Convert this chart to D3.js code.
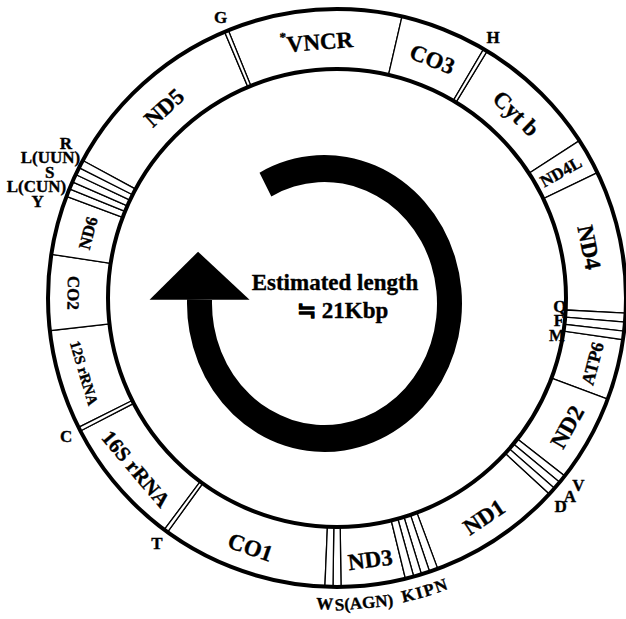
<!DOCTYPE html>
<html>
<head>
<meta charset="utf-8">
<script src="https://cdn.jsdelivr.net/npm/d3@7"></script>
<style>
	body { margin: 0; background: #fff; }
	svg { display: block; }
	text { font-family: "Liberation Serif", "Times New Roman", serif; font-weight: bold; fill: #000; stroke: #000; stroke-width: 0.35px; }
</style>
<title>Mitochondrial gene map</title>
</head>
<body>
<svg id="map" width="626" height="619"></svg>
<script>
// positions are in degrees, clockwise from the top of the circle
var geneNames = ["VNCR", "CO3", "Cyt b", "ND4L", "ND4", "ATP6", "ND2", "ND1", "ND3", "CO1", "16S rRNA", "12S rRNA", "CO2", "ND6", "ND5"];
var geneStart = [-22.1, 13.0, 31.3, 57.0, 64.3, 98.3, 110.5, 132.7, 166.3, 182.4, 216.7, 243.4, 263.5, 278.7, 298.4];
var geneEnd   = [13.0, 30.5, 57.0, 64.3, 93.0, 110.5, 128.0, 159.6, 179.2, 215.9, 242.6, 263.5, 278.7, 290.6, 337.1];

var trnaNames = ["H", "Q", "F", "M", "V", "A", "D", "N", "P", "I", "K", "S(AGN)", "W", "T", "C", "Y", "L(CUN)", "S", "L(UUN)", "R", "G"];
var trnaStart = [30.5, 93.0, 94.8, 96.6, 128.0, 129.6, 131.2, 159.6, 161.3, 163.0, 164.6, 179.2, 180.8, 215.9, 242.6, 290.6, 292.2, 293.7, 295.3, 296.8, 337.1];
var trnaEnd   = [31.3, 94.8, 96.6, 98.3, 129.6, 131.2, 132.7, 161.3, 163.0, 164.6, 166.3, 180.8, 182.4, 216.7, 243.4, 292.2, 293.7, 295.3, 296.8, 298.4, 337.9];

var centerLines = ["Estimated length", "\u2252 21Kbp"];

var w = 626, h = 619;
var cx = 337, cy = 298, rIn = 229, rOut = 289;

var svg = d3.select("#map");
var deg = d3.scaleLinear().domain([0, 360]).range([0, 2 * Math.PI]);

function polar(a, r) {
	var t = deg(a);
	return [cx + r * Math.sin(t), cy - r * Math.cos(t)];
}

var genes = geneNames.map(function(n, i) { return {name: n, start: geneStart[i], end: geneEnd[i]}; });
var trnas = trnaNames.map(function(n, i) { return {name: n, start: trnaStart[i], end: trnaEnd[i]}; });

var ring = svg.append("g");
var arc = d3.arc().innerRadius(rIn).outerRadius(rOut);

// segments (gene blocks and tRNA slivers)
ring.selectAll("path.seg")
	.data(genes.concat(trnas))
	.enter()
	.append("path")
	.attr("class", "seg")
	.attr("transform", "translate(" + cx + "," + cy + ")")
	.attr("d", function(d) { return arc({startAngle: deg(d.start), endAngle: deg(d.end)}); })
	.attr("fill", "#fff")
	.attr("stroke", "#000")
	.attr("stroke-width", 1.3);

ring.selectAll("circle")
	.data([rOut, rIn])
	.enter()
	.append("circle")
	.attr("cx", cx)
	.attr("cy", cy)
	.attr("r", function(d) { return d; })
	.attr("fill", "none")
	.attr("stroke", "#000")
	.attr("stroke-width", 4);

// gene names inside the ring
var labelSize = {"ND4L": 17, "ATP6": 18, "12S rRNA": 15, "16S rRNA": 21, "CO2": 17, "ND6": 17};
genes.forEach(function(g) {
	var m = ((g.start + g.end) / 2 + 360) % 360;
	var flip = m > 90 && m < 275;
	var radial = g.end - g.start < 10;
	var rot = radial ? m - 90 : (flip ? m - 180 : m);
	var p = polar(m, flip ? 264 : 257);
	var t = ring.append("text")
		.attr("transform", "translate(" + p + ") rotate(" + rot + ")")
		.attr("text-anchor", "middle")
		.attr("dominant-baseline", "central")
		.style("font-size", (labelSize[g.name] || 23) + "px");
	if (g.name === "VNCR") {
		t.append("tspan").text("*").style("font-size", "13px").attr("dy", -8);
		t.append("tspan").text(g.name).attr("dy", 8);
	} else {
		t.text(g.name);
	}
});

// tRNA names, grouped into runs of touching slivers
var clusters = [];
trnas.forEach(function(t) {
	var last = clusters[clusters.length - 1];
	if (last && Math.abs(last[last.length - 1].end - t.start) < 0.01) last.push(t);
	else clusters.push([t]);
});

function trnaText(name) {
	return ring.append("text")
		.text(name)
		.attr("dominant-baseline", "central")
		.style("font-size", "17px");
}

clusters.forEach(function(c) {
	var a0 = c[0].start, a1 = c[c.length - 1].end, mid = (a0 + a1) / 2;
	var s = Math.sin(deg(mid));
	if (c.length === 1) {
		trnaText(c[0].name)
			.attr("text-anchor", "middle")
			.attr("transform", "translate(" + polar(mid, 304) + ")");
	} else if (Math.abs(s) > 0.9) {
		// side runs: stacked vertically
		var inside = polar(mid, 303)[0] > w - 20;
		var yMid = polar(mid, inside ? rIn : 303)[1];
		var ordered = s > 0 ? c : c.slice().reverse();
		ordered.forEach(function(t, i) {
			var y = yMid + (i - (ordered.length - 1) / 2) * 14.5;
			var txt = trnaText(t.name);
			var x;
			if (inside) {
				x = cx + Math.sqrt(rIn * rIn - (y - cy) * (y - cy)) - 6;
				txt.attr("text-anchor", "middle");
			} else {
				var xr = cx - Math.sqrt(rOut * rOut - (y - cy) * (y - cy));
				if (t.name.length > 1) { x = xr - 4; txt.attr("text-anchor", "end"); }
				else { x = xr - 27; txt.attr("text-anchor", "middle"); }
			}
			txt.attr("transform", "translate(" + x + "," + y + ")");
		});
	} else {
		// lower runs: written along the circle
		var R = 306;
		var turn = Math.abs(mid - 180) < 30;
		var a = a1 + 1.5;
		c.slice().reverse().forEach(function(t) {
			var txt = trnaText(t.name).attr("text-anchor", "middle");
			var tw = txt.node().getComputedTextLength();
			var gap = t.name.length > 1 ? 0 : 1.5;
			var ac = a - (tw / 2) / R * 180 / Math.PI;
			txt.attr("transform", "translate(" + polar(ac, R) + ") rotate(" + (turn ? ac - 180 : 0) + ")");
			a = a - (tw + gap) / R * 180 / Math.PI;
		});
	}
});

// direction arrow in the middle
var acx = 324.5, acy = 303.5, asy = 1.08;
var arrowStart = -28.2, arrowEnd = 271.6;
svg.append("path")
	.attr("transform", "translate(" + acx + "," + acy + ") scale(1," + asy + ")")
	.attr("d", d3.arc()({innerRadius: 112.5, outerRadius: 137.5, startAngle: deg(arrowStart), endAngle: deg(arrowEnd)}))
	.attr("fill", "#000");

var te = deg(arrowEnd);
var hx = acx + 125 * Math.sin(te), hy = acy - 125 * Math.cos(te) * asy;
svg.append("path")
	.attr("d", d3.line()([[hx - 50, hy], [hx + 50, hy], [hx - 1.5, hy - 48]]) + "Z")
	.attr("fill", "#000");

svg.append("text")
	.attr("x", 335).attr("y", 290)
	.attr("text-anchor", "middle")
	.style("font-size", "23px")
	.text(centerLines[0]);
svg.append("text")
	.attr("x", 297).attr("y", 318)
	.style("font-size", "23px")
	.text(centerLines[1]);
</script>
</body>
</html>
